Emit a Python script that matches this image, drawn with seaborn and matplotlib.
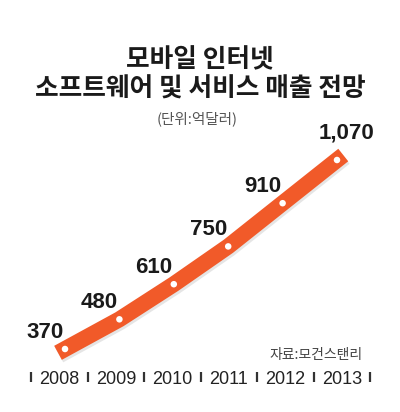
import matplotlib
matplotlib.use("Agg")
import matplotlib.pyplot as plt
import matplotlib.patheffects as pe
import matplotlib.transforms as mtransforms
import seaborn as sns
import pandas as pd

years = ["2008", "2009", "2010", "2011", "2012", "2013"]
values = [370, 480, 610, 750, 910, 1070]
value_labels = ["370", "480", "610", "750", "910", "1,070"]
title_lines = ["모바일 인터넷", "소프트웨어 및 서비스 매출 전망"]
unit_text = "(단위:억달러)"
source_text = "자료:모건스탠리"

sns.set_theme(style="white")
plt.rcParams["font.family"] = ["Noto Sans CJK KR", "DejaVu Sans"]

df = pd.DataFrame({"idx": range(len(years)), "year": years, "value": values})

W, H = 400, 412
fig = plt.figure(figsize=(W / 100, H / 100), dpi=100)
fig.patch.set_facecolor("white")

ax = fig.add_axes([0, 0, 1, 1])
ax.set_xlim(-1.195, 6.158)
ax.set_ylim(136.7, 1662.6)
ax.axis("off")

line_color = "#F15A29"
sns.lineplot(data=df, x="idx", y="value", ax=ax, color=line_color, linewidth=11.5,
             legend=False)
ln = ax.lines[-1]
ln.set_solid_capstyle("projecting")
ln.set_solid_joinstyle("round")
ln.set_path_effects([pe.SimpleLineShadow(offset=(1.0, -1.8), shadow_color="#999999", alpha=0.25),
                     pe.Normal()])
sns.scatterplot(data=df, x="idx", y="value", ax=ax, color="white", s=22,
                edgecolor="none", zorder=5, legend=False)

for i, (v, lab) in enumerate(zip(values, value_labels)):
    if i == len(values) - 1:
        off = (6.5, 19.5)
    else:
        off = (-14.4, 12.2)
    ax.annotate(lab, (i, v), xytext=off, textcoords="offset points",
                ha="center", va="center", fontsize=16, fontweight="bold",
                color="#1a1a1a",
                family=["Liberation Sans Narrow", "Liberation Sans", "DejaVu Sans"])

ax2 = fig.add_axes([0, (H - 377) / H, 1, 0.001])
ax2.set_xlim(-1.053, 6.027)
ax2.set_ylim(0, 1)
for s in ax2.spines.values():
    s.set_visible(False)
ax2.set_yticks([])
ax2.set_xticks([i - 0.5 for i in range(len(years) + 1)])
ax2.set_xticklabels([])
ax2.tick_params(axis="x", direction="inout", length=6.5, width=1.6, color="#333333",
                bottom=True)
ax2.patch.set_alpha(0)
trans = mtransforms.blended_transform_factory(ax2.transData, fig.transFigure)
for i, y in enumerate(years):
    ax2.text(i, (H - 383.5) / H, y, transform=trans, ha="center", va="baseline",
             fontsize=13, color="#222222",
             family=["Liberation Sans", "DejaVu Sans"])

fig.text(0.5, 1 - 60 / H, title_lines[0], ha="center", va="center", fontsize=18.5,
         fontweight="bold", color="#1a1a1a")
fig.text(0.5, 1 - 89 / H, title_lines[1], ha="center", va="center", fontsize=18.5,
         fontweight="bold", color="#1a1a1a")
fig.text(197 / W, 1 - 119 / H, unit_text, ha="center", va="center", fontsize=10.5,
         color="#555555")
fig.text(316 / W, 1 - 355 / H, source_text, ha="center", va="center", fontsize=10,
         color="#444444")

fig.savefig("out.png", dpi=100, facecolor="white")
